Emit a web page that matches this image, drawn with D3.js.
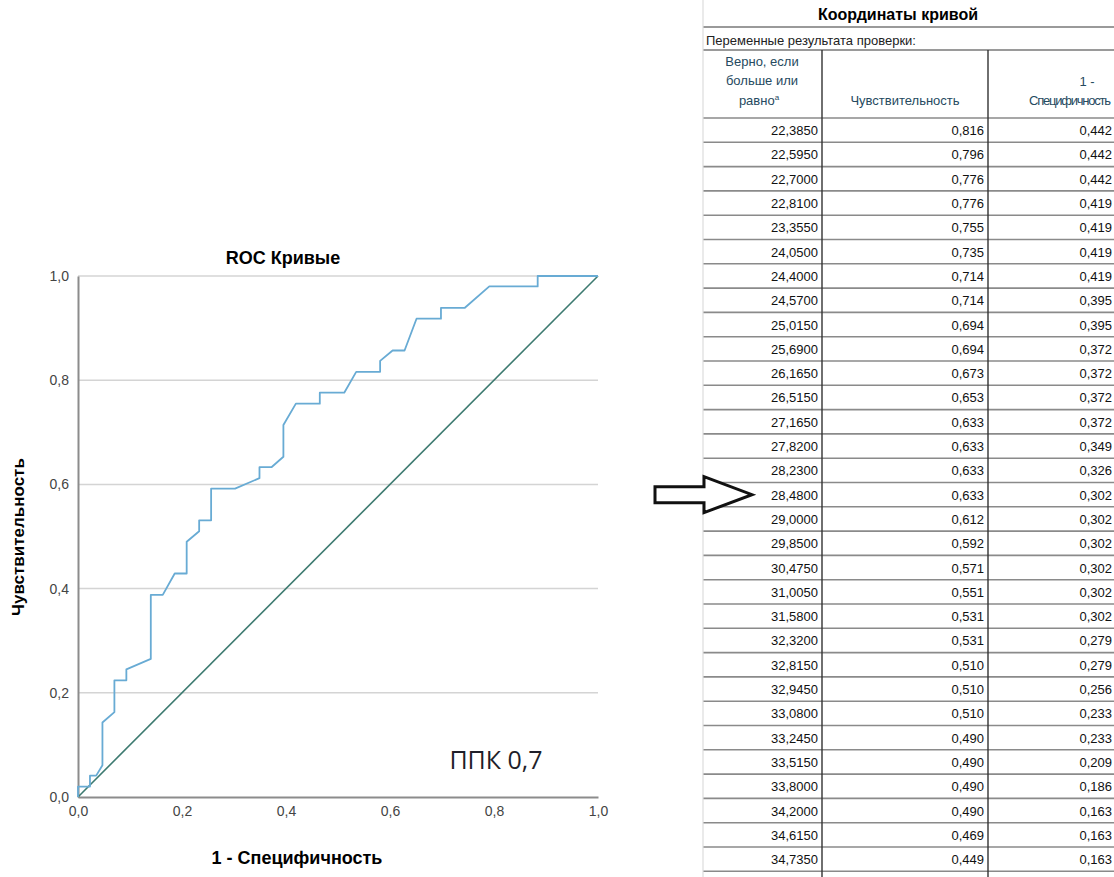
<!DOCTYPE html>
<html>
<head>
<meta charset="utf-8">
<script src="https://cdn.jsdelivr.net/npm/d3@7"></script>
<style>
  body { margin: 0; background: #fff; }
  svg { display: block; font-family: "Liberation Sans", Arial, sans-serif; }
</style>
</head>
<body>
<div id="chart"></div>
<script>
// ROC curve points (1 - specificity, sensitivity)
const rocFpr = [0, 0, 0.023, 0.023, 0.035, 0.047, 0.047, 0.070, 0.070, 0.093, 0.093,
  0.140, 0.140, 0.163, 0.186, 0.209, 0.209, 0.233, 0.233, 0.256, 0.256, 0.302,
  0.349, 0.349, 0.372, 0.395, 0.395, 0.419, 0.465, 0.465, 0.512, 0.535, 0.581,
  0.581, 0.605, 0.628, 0.651, 0.698, 0.698, 0.744, 0.791, 0.884, 0.884, 1.000];
const rocTpr = [0, 0.020, 0.020, 0.041, 0.041, 0.061, 0.143, 0.163, 0.224, 0.224, 0.245,
  0.265, 0.388, 0.388, 0.429, 0.429, 0.490, 0.510, 0.531, 0.531, 0.592, 0.592,
  0.612, 0.633, 0.633, 0.653, 0.714, 0.755, 0.755, 0.776, 0.776, 0.816, 0.816,
  0.837, 0.857, 0.857, 0.918, 0.918, 0.939, 0.939, 0.980, 0.980, 1.000, 1.000];
const refLine = [0, 1];
const axisTicks = [0, 0.2, 0.4, 0.6, 0.8, 1.0];
const aucLabel = "ППК 0,7";

// table "Координаты кривой"
const thresholds = [22.385, 22.595, 22.7, 22.81, 23.355, 24.05, 24.4, 24.57, 25.015, 25.69,
  26.165, 26.515, 27.165, 27.82, 28.23, 28.48, 29.0, 29.85, 30.475, 31.005, 31.58,
  32.32, 32.815, 32.945, 33.08, 33.245, 33.515, 33.8, 34.2, 34.615, 34.735];
const tableSens = [0.816, 0.796, 0.776, 0.776, 0.755, 0.735, 0.714, 0.714, 0.694, 0.694,
  0.673, 0.653, 0.633, 0.633, 0.633, 0.633, 0.612, 0.592, 0.571, 0.551, 0.531,
  0.531, 0.510, 0.510, 0.510, 0.490, 0.490, 0.490, 0.490, 0.469, 0.449];
const tableSpec = [0.442, 0.442, 0.442, 0.419, 0.419, 0.419, 0.419, 0.395, 0.395, 0.372,
  0.372, 0.372, 0.372, 0.349, 0.326, 0.302, 0.302, 0.302, 0.302, 0.302, 0.302,
  0.279, 0.279, 0.256, 0.233, 0.233, 0.209, 0.186, 0.163, 0.163, 0.163];
const markedRow = 15; // 28,4800

const ru = d3.formatLocale({decimal: ",", thousands: " ", grouping: [3], currency: ["", ""]});
const f1 = ru.format(".1f"), f3 = ru.format(".3f"), f4 = ru.format(".4f");

const W = 1114, H = 877;
const svg = d3.select("#chart").append("svg").attr("width", W).attr("height", H);
svg.append("rect").attr("width", W).attr("height", H).attr("fill", "#fff");

/* ---------- ROC chart ---------- */
const plot = {left: 78, top: 276, width: 520, height: 521};
const x = d3.scaleLinear().domain([0, 1]).range([plot.left, plot.left + plot.width]);
const y = d3.scaleLinear().domain([0, 1]).range([plot.top + plot.height, plot.top]);

const chart = svg.append("g").attr("class", "roc");

// grid lines
chart.append("g").selectAll("line")
  .data(axisTicks.filter(d => d > 0))
  .join("line")
  .attr("x1", x(0)).attr("x2", x(1))
  .attr("y1", d => y(d)).attr("y2", d => y(d))
  .attr("stroke", "#d4d4d4").attr("stroke-width", 1.5);

// axes
const xAxis = chart.append("g")
  .attr("transform", "translate(0," + y(0) + ")")
  .call(d3.axisBottom(x).tickValues(axisTicks).tickFormat(f1).tickSize(0).tickPadding(9));
const yAxis = chart.append("g")
  .attr("transform", "translate(" + x(0) + ",0)")
  .call(d3.axisLeft(y).tickValues(axisTicks).tickFormat(f1).tickSize(0).tickPadding(9));
[xAxis, yAxis].forEach(a => {
  a.select(".domain").attr("stroke", "#8c8c8c").attr("stroke-width", 2);
  a.selectAll("text").attr("fill", "#444").style("font-size", "14px")
    .style("font-family", "'Liberation Sans', Arial, sans-serif");
});

// reference diagonal
chart.append("line")
  .attr("x1", x(refLine[0])).attr("y1", y(refLine[0]))
  .attr("x2", x(refLine[1])).attr("y2", y(refLine[1]))
  .attr("stroke", "#3d7a70").attr("stroke-width", 1.6);

// ROC curve
const line = d3.line().x(d => x(d[0])).y(d => y(d[1]));
chart.append("path")
  .datum(rocFpr.map((v, i) => [v, rocTpr[i]]))
  .attr("d", line)
  .attr("fill", "none")
  .attr("stroke", "#68abd4")
  .attr("stroke-width", 1.8)
  .attr("stroke-linejoin", "round");

// titles
chart.append("text")
  .attr("x", 283).attr("y", 264)
  .attr("text-anchor", "middle")
  .style("font-size", "18px").style("font-weight", "bold")
  .text("ROC Кривые");
chart.append("text")
  .attr("transform", "translate(24,537) rotate(-90)")
  .attr("text-anchor", "middle")
  .style("font-size", "17px").style("font-weight", "bold")
  .text("Чувствительность");
chart.append("text")
  .attr("x", 297).attr("y", 864)
  .attr("text-anchor", "middle")
  .style("font-size", "18px").style("font-weight", "bold")
  .text("1 - Специфичность");
chart.append("text")
  .attr("x", 496).attr("y", 769)
  .attr("text-anchor", "middle")
  .attr("fill", "#1f1f2a")
  .style("font-size", "25px")
  .style("font-family", "'Open Sans', 'Noto Sans', sans-serif")
  .text(aucLabel);

/* ---------- table ---------- */
const tbl = {left: 703, right: 1116, col1: 822, col2: 988, headTop: 50, rowTop: 118, rowH: 24.3};
const table = svg.append("g").attr("class", "coords");

table.append("text")
  .attr("x", 898).attr("y", 20)
  .attr("text-anchor", "middle")
  .style("font-size", "16px").style("font-weight", "bold")
  .text("Координаты кривой");
table.append("line")
  .attr("x1", tbl.left).attr("x2", tbl.right).attr("y1", 27).attr("y2", 27)
  .attr("stroke", "#9a9a9a").attr("stroke-width", 2);
table.append("text")
  .attr("x", tbl.left + 3).attr("y", 45)
  .style("font-size", "13px").attr("fill", "#222")
  .text("Переменные результата проверки:");
table.append("line")
  .attr("x1", tbl.left).attr("x2", tbl.right).attr("y1", tbl.headTop).attr("y2", tbl.headTop)
  .attr("stroke", "#9a9a9a").attr("stroke-width", 2);

// header cells
const hdr = table.append("g").attr("fill", "#264a60").style("font-size", "13px").attr("text-anchor", "middle");
hdr.append("text").attr("x", 762).attr("y", 66).text("Верно, если");
hdr.append("text").attr("x", 762).attr("y", 85).text("больше или");
const h3 = hdr.append("text").attr("x", 759).attr("y", 105).text("равно");
h3.append("tspan").attr("dy", -5).style("font-size", "8px").text("a");
hdr.append("text").attr("x", 905).attr("y", 105).text("Чувствительность");
hdr.append("text").attr("x", 1087).attr("y", 86).text("1 -");
hdr.append("text").attr("x", 1111).attr("y", 105).attr("text-anchor", "end")
  .attr("textLength", 82).text("Специфичность");

// row lines
const rows = d3.range(thresholds.length);
table.append("g").selectAll("line")
  .data(d3.range(thresholds.length + 1))
  .join("line")
  .attr("x1", tbl.left).attr("x2", tbl.right)
  .attr("y1", i => tbl.rowTop + i * tbl.rowH).attr("y2", i => tbl.rowTop + i * tbl.rowH)
  .attr("stroke", "#8a8a8a").attr("stroke-width", 1.6);

// column lines and left border
[tbl.col1, tbl.col2].forEach(cx => {
  table.append("line")
    .attr("x1", cx).attr("x2", cx).attr("y1", tbl.headTop).attr("y2", H)
    .attr("stroke", "#333").attr("stroke-width", 1.4);
});
table.append("line")
  .attr("x1", tbl.left).attr("x2", tbl.left).attr("y1", 0).attr("y2", H)
  .attr("stroke", "#dcdcdc").attr("stroke-width", 1.2);

// cell values
const cells = table.append("g").style("font-size", "13px").attr("fill", "#111").attr("text-anchor", "end");
const rowY = i => tbl.rowTop + i * tbl.rowH + tbl.rowH / 2 + 5;
cells.selectAll("text.t").data(rows).join("text").attr("class", "t")
  .attr("x", tbl.col1 - 4).attr("y", rowY).text(i => f4(thresholds[i]));
cells.selectAll("text.s").data(rows).join("text").attr("class", "s")
  .attr("x", tbl.col2 - 4).attr("y", rowY).text(i => f3(tableSens[i]));
cells.selectAll("text.p").data(rows).join("text").attr("class", "p")
  .attr("x", 1112).attr("y", rowY).text(i => f3(tableSpec[i]));

// outline arrow pointing at the marked row
const ay = tbl.rowTop + markedRow * tbl.rowH + tbl.rowH / 2;
const arrow = [[655, ay - 8], [704, ay - 8], [704, ay - 18], [752, ay], [704, ay + 18], [704, ay + 8], [655, ay + 8]];
svg.append("path")
  .attr("d", d3.line()(arrow) + "Z")
  .attr("fill", "#fff")
  .attr("stroke", "#111")
  .attr("stroke-width", 3)
  .attr("stroke-linejoin", "miter");
</script>
</body>
</html>
